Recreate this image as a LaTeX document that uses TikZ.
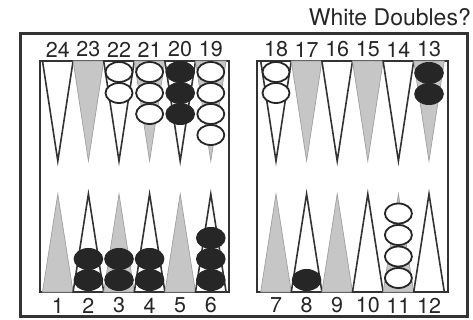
\documentclass[tikz,border=0pt]{standalone}
\usepackage{fontspec}
\setmainfont{TeX Gyre Heros}
\begin{document}
\begin{tikzpicture}[x=1pt,y=-1pt,
  frame/.style={line width=3pt, draw=black!80},
  board/.style={line width=1.6pt, draw=black!80},
  wpt/.style={fill=white, draw=black!80, line width=1.6pt, line join=miter},
  gpt/.style={fill=gray!45, draw=gray!75, line width=0.7pt},
  wck/.style={fill=white, draw=black!85, line width=1.8pt},
  bck/.style={fill=black!85, draw=black!85, line width=1pt},
  lbl/.style={font=\fontsize{21.5}{21.5}\selectfont, text=black!85, inner sep=0pt},
  ttl/.style={font=\fontsize{23}{23}\selectfont, text=black!85, inner sep=0pt}]
\useasboundingbox (0,0) rectangle (473,320);
% frame and boards
\draw[frame] (20,34) rectangle (467,316);
\draw[board] (40,61) rectangle (229,292);
\draw[board] (257,61) rectangle (448,292);
% points
\foreach \xo in {42.5,260.7}{
  \foreach \k/\s/\t in {0/wpt/gpt,1/gpt/wpt,2/wpt/gpt,3/gpt/wpt,4/wpt/gpt,5/gpt/wpt}{
    \draw[\s] ({\xo+\k*30.6},61) -- ({\xo+(\k+1)*30.6},61) -- ({\xo+(\k+0.5)*30.6},161) -- cycle;
    \draw[\t] ({\xo+\k*30.6},292) -- ({\xo+(\k+1)*30.6},292) -- ({\xo+(\k+0.5)*30.6},194) -- cycle;
  }
}
% white checkers
\foreach \x/\y in {119/72,119/93, 149.6/72,149.6/93,149.6/114,
  210.8/72,210.8/93,210.8/114,210.8/135, 276/72,276/93,
  398.4/278,398.4/256.5,398.4/235,398.4/213.5}
  \draw[wck] (\x,\y) ellipse [x radius=13.5pt, y radius=10pt];
% black checkers
\foreach \x/\y in {180.2/72,180.2/93,180.2/114, 429/73,429/94,
  88.4/280,88.4/259, 119/280,119/259, 149.6/280,149.6/259,
  210.8/280,210.8/259,210.8/238, 306.6/280}
  \draw[bck] (\x,\y) ellipse [x radius=14.3pt, y radius=10.5pt];
% labels
\foreach \n/\x in {24/57.8,23/88.4,22/119,21/149.6,20/180.2,19/210.8,
  18/276,17/306.6,16/337.2,15/367.8,14/398.4,13/429}
  \node[lbl] (n\n) at (\x,49.5) {\n};
\foreach \n/\x in {1/57.8,2/88.4,3/119,4/149.6,5/180.2,6/210.8,
  7/276,8/306.6,9/337.2,10/367.8,11/398.4,12/429}
  \node[lbl] (n\n) at (\x,305.5) {\n};
\node[ttl, anchor=east] (title) at (471,17) {White Doubles?};
\end{tikzpicture}
\end{document}
